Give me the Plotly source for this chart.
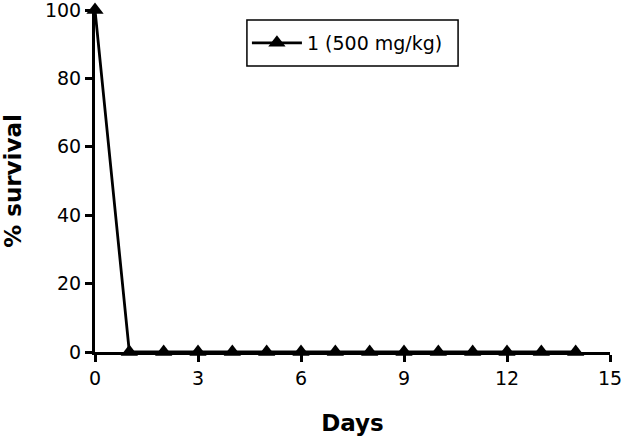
import plotly.graph_objects as go

# === DATA ===
days = [0, 1, 2, 3, 4, 5, 6, 7, 8, 9, 10, 11, 12, 13, 14]
survival = [100, 0, 0, 0, 0, 0, 0, 0, 0, 0, 0, 0, 0, 0, 0]
series_name = "1 (500 mg/kg)"
x_ticks = [0, 3, 6, 9, 12, 15]
y_ticks = [0, 20, 40, 60, 80, 100]

FONT = "DejaVu Sans, Liberation Sans, Arial, sans-serif"

fig = go.Figure()

fig.add_trace(go.Scatter(
    x=days, y=survival,
    mode="lines+markers",
    name=series_name,
    line=dict(color="black", width=2.8),
    marker=dict(symbol="triangle-up", size=15, color="black"),
    cliponaxis=False,
))

# legend frame (drawn as a shape so it can be a bit taller than plotly's own)
fig.add_shape(
    type="rect", xref="paper", yref="paper",
    x0=0.295, x1=0.705, y0=0.836, y1=0.971,
    line=dict(color="black", width=1.5), fillcolor="white", layer="below",
)

fig.update_layout(
    width=622, height=438,
    margin=dict(l=95, r=12, t=10, b=86),
    plot_bgcolor="white", paper_bgcolor="white",
    font=dict(family=FONT, color="black", size=19),
    showlegend=True,
    legend=dict(
        x=0.295, y=0.9035, xanchor="left", yanchor="middle",
        borderwidth=0, bgcolor="rgba(0,0,0,0)",
        font=dict(size=19),
        itemwidth=50,
    ),
    xaxis=dict(
        range=[0, 15], tickvals=x_ticks,
        showline=True, linecolor="black", linewidth=3,
        ticks="outside", ticklen=7, tickwidth=3, tickcolor="black",
        showgrid=False, zeroline=False, automargin=False,
        ticklabeloverflow="allow",
        tickfont=dict(size=19),
        title=dict(text="<b>Days</b>", font=dict(size=23), standoff=28),
    ),
    yaxis=dict(
        range=[0, 100], tickvals=y_ticks,
        showline=True, linecolor="black", linewidth=3,
        ticks="outside", ticklen=7, tickwidth=3, tickcolor="black",
        showgrid=False, zeroline=False, automargin=False,
        ticklabeloverflow="allow",
        tickfont=dict(size=19),
        title=dict(text="<b>% survival</b>", font=dict(size=23), standoff=20),
    ),
)

# page has a default 8px body margin; remove it so the figure sits at 0,0
fig.write_html(
    "out.html",
    config={"displayModeBar": False},
    post_script="document.body.style.margin='0';",
)
